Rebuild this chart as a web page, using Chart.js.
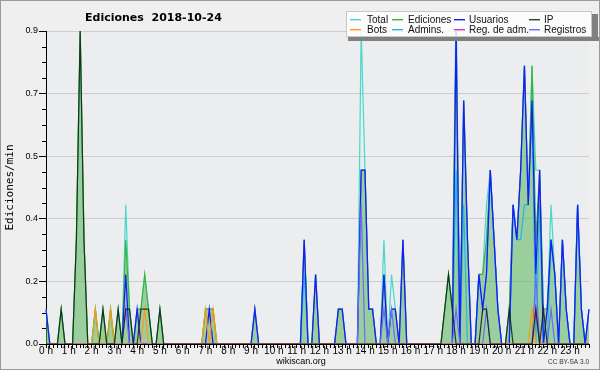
<!DOCTYPE html>
<html><head><meta charset="utf-8">
<script src="https://cdn.jsdelivr.net/npm/chart.js@4/dist/chart.umd.min.js"></script>
<style>html,body{margin:0;padding:0;background:#efefef;}canvas{display:block;}</style>
</head><body>
<canvas id="c" width="600" height="370"></canvas>
<script>
// ---- data (10-minute slots, edits per minute) ----
const hourLabels = ['0 h','1 h','2 h','3 h','4 h','5 h','6 h','7 h','8 h','9 h','10 h','11 h',
  '12 h','13 h','14 h','15 h','16 h','17 h','18 h','19 h','20 h','21 h','22 h','23 h'];
const slotsPerHour = 6;
const yTickValues = [0, 0.18, 0.36, 0.54, 0.72, 0.9];
const yTickLabels = ['0.0', '0.2', '0.4', '0.5', '0.7', '0.9'];
const seriesNames = ['Total','Ediciones','Usuarios','IP','Bots','Admins.','Reg. de adm.','Registros'];

const total = [
0.1,0,0,0,0.1,0,  0,0,0.3,0.9,0.3,0,  0,0.1,0,0.1,0,0.1,  0,0.1,0,0.4,0.1,0,
0.1,0.1,0.2,0.1,0,0,  0.1,0,0,0,0,0,  0,0,0,0,0,0,  0.1,0.1,0.1,0,0,0,
0,0,0,0,0,0,  0,0.1,0,0,0,0,  0,0,0,0,0,0,  0,0,0.3,0,0,0.2,
0,0,0,0,0,0.1,  0.1,0,0,0,0,0.9,  0.5,0.1,0.1,0,0,0.3,  0,0.2,0.1,0,0.3,0,
0,0,0,0,0,0,  0,0,0,0.1,0.2,0.1,  1.0,0,0.7,0.3,0,0,  0.2,0.2,0.4,0.5,0.3,0.1,
0,0,0.1,0.4,0.3,0.5,  0.8,0.4,0.8,0.5,0.5,0.1,  0.1,0.4,0.2,0,0.3,0.1,  0,0,0.4,0.1,0,0.1];

const ediciones = [
0.1,0,0,0,0.1,0,  0,0,0.3,0.9,0.3,0,  0,0.1,0,0.1,0,0.1,  0,0.1,0,0.3,0.1,0,
0.1,0.1,0.2,0.1,0,0,  0.1,0,0,0,0,0,  0,0,0,0,0,0,  0.1,0.1,0.1,0,0,0,
0,0,0,0,0,0,  0,0.1,0,0,0,0,  0,0,0,0,0,0,  0,0,0.3,0,0,0.2,
0,0,0,0,0,0.1,  0.1,0,0,0,0,0.5,  0.5,0.1,0.1,0,0,0.2,  0,0.1,0.1,0,0.3,0,
0,0,0,0,0,0,  0,0,0,0.1,0.2,0.1,  0.9,0,0.7,0.3,0,0,  0.2,0.2,0.3,0.5,0.3,0.1,
0,0,0.1,0.4,0.3,0.5,  0.8,0.4,0.8,0.3,0.5,0.1,  0.1,0.3,0.2,0,0.3,0.1,  0,0,0.4,0.1,0,0.1];

const usuarios = [
0.1,0,0,0,0,0,  0,0,0,0,0,0,  0,0,0,0,0,0,  0,0,0,0.2,0,0,
0.1,0,0,0,0,0,  0,0,0,0,0,0,  0,0,0,0,0,0,  0,0.1,0,0,0,0,
0,0,0,0,0,0,  0,0.1,0,0,0,0,  0,0,0,0,0,0,  0,0,0.3,0,0,0.2,
0,0,0,0,0,0.1,  0.1,0,0,0,0,0.5,  0.5,0.1,0.1,0,0,0.2,  0,0.1,0.1,0,0.3,0,
0,0,0,0,0,0,  0,0,0,0,0,0,  0.9,0,0.7,0.3,0,0,  0.2,0.1,0.2,0.5,0.3,0.1,
0,0,0,0.4,0.3,0.5,  0.8,0.4,0.7,0.2,0.5,0,  0.1,0.3,0.2,0,0.3,0.1,  0,0,0.4,0.1,0,0.1];

const ip = [
0,0,0,0,0.1,0,  0,0,0.3,0.9,0.3,0,  0,0,0,0.1,0,0,  0,0.1,0,0.1,0.1,0,
0,0.1,0.1,0.1,0,0,  0.1,0,0,0,0,0,  0,0,0,0,0,0,  0,0,0,0,0,0,
0,0,0,0,0,0,  0,0,0,0,0,0,  0,0,0,0,0,0,  0,0,0,0,0,0,
0,0,0,0,0,0,  0,0,0,0,0,0,  0,0,0,0,0,0,  0,0,0,0,0,0,
0,0,0,0,0,0,  0,0,0,0.1,0.2,0.1,  0,0,0,0,0,0,  0,0.1,0.1,0,0,0,
0,0,0.1,0,0,0,  0,0,0,0.1,0,0.1,  0,0,0,0,0,0,  0,0,0,0,0,0];

const bots = [
0,0,0,0,0,0,  0,0,0,0,0,0,  0,0.1,0,0,0,0.1,  0,0,0,0,0,0,
0,0,0.1,0,0,0,  0,0,0,0,0,0,  0,0,0,0,0,0,  0.1,0,0.1,0,0,0,
0,0,0,0,0,0,  0,0,0,0,0,0,  0,0,0,0,0,0,  0,0,0,0,0,0,
0,0,0,0,0,0,  0,0,0,0,0,0,  0,0,0,0,0,0,  0,0,0,0,0,0,
0,0,0,0,0,0,  0,0,0,0,0,0,  0,0,0,0,0,0,  0,0,0,0,0,0,
0,0,0,0,0,0,  0,0,0.1,0,0,0,  0,0,0,0,0,0,  0,0,0,0,0,0];

const admins = [
0,0,0,0,0,0,  0,0,0,0,0,0,  0,0,0,0,0,0,  0,0,0,0,0,0,
0,0,0,0,0,0,  0,0,0,0,0,0,  0,0,0,0,0,0,  0,0,0,0,0,0,
0,0,0,0,0,0,  0,0,0,0,0,0,  0,0,0,0,0,0,  0,0,0.2,0,0,0,
0,0,0,0,0,0,  0,0,0,0,0,0,  0,0,0,0,0,0,  0,0,0,0,0,0,
0,0,0,0,0,0,  0,0,0,0,0,0,  0.5,0,0.4,0,0,0,  0.2,0.1,0.2,0.5,0.3,0.1,
0,0,0,0.4,0.3,0.3,  0.4,0.4,0.7,0,0.4,0,  0,0.3,0.2,0,0.3,0.1,  0,0,0.4,0.1,0,0.1];

const regAdm = [
0,0,0,0,0,0,  0,0,0,0,0,0,  0,0,0,0,0,0,  0,0,0,0,0,0,
0,0,0,0,0,0,  0,0,0,0,0,0,  0,0,0,0,0,0,  0,0,0,0,0,0,
0,0,0,0,0,0,  0,0,0,0,0,0,  0,0,0,0,0,0,  0,0,0,0,0,0,
0,0,0,0,0,0,  0,0,0,0,0,0,  0,0,0,0,0,0,  0,0,0,0,0,0,
0,0,0,0,0,0,  0,0,0,0,0,0,  0,0,0,0,0,0,  0,0,0,0,0,0,
0,0,0,0,0,0,  0,0,0,0.1,0,0,  0,0,0,0,0,0,  0,0,0,0,0,0];

const registros = [
0,0,0,0,0,0,  0,0,0,0,0,0,  0,0,0,0,0,0,  0,0,0,0.1,0,0,
0,0,0,0,0,0,  0,0,0,0,0,0,  0,0,0,0,0,0,  0,0,0,0,0,0,
0,0,0,0,0,0,  0,0,0,0,0,0,  0,0,0,0,0,0,  0,0,0,0,0,0,
0,0,0,0,0,0,  0,0,0,0,0,0.4,  0,0,0,0,0,0.1,  0,0.1,0,0,0,0,
0,0,0,0,0,0,  0,0,0,0,0,0,  0.1,0,0,0,0,0,  0,0,0.1,0,0,0,
0,0,0,0,0,0,  0,0,0,0.2,0,0,  0,0.1,0,0,0,0,  0,0,0,0,0,0];

// ---- build category labels (one per 10-minute slot) ----
const timeLabels = [];
hourLabels.forEach(h => { for (let s = 0; s < slotsPerHour; s++) timeLabels.push(s === 0 ? h : ''); });

const styles = [
  {color:'#46d8cc', width:1.2, order:8},
  {color:'#3cb43c', width:1.2, order:7, fill:'rgba(90,180,90,0.55)'},
  {color:'#1a1aff', width:1.3, order:5},
  {color:'rgba(15,30,15,0.85)', width:1.2, order:1},
  {color:'#ff9a10', width:1.2, order:2},
  {color:'#22b8e2', width:1.2, order:6},
  {color:'#cc33cc', width:1.2, order:3},
  {color:'#6a6aff', width:1.2, order:4}
];
const seriesData = [total, ediciones, usuarios, ip, bots, admins, regAdm, registros];

const datasets = seriesData.map((d, k) => ({
  label: seriesNames[k], data: d,
  borderColor: styles[k].color, borderWidth: styles[k].width, order: styles[k].order,
  backgroundColor: styles[k].fill || 'rgba(0,0,0,0)',
  fill: styles[k].fill ? 'origin' : false,
  pointRadius: 0, pointHoverRadius: 0, tension: 0
}));

const deco = {
  id: 'deco',
  beforeDraw(chart) {
    const {ctx, chartArea: a} = chart;
    ctx.save();
    ctx.fillStyle = '#efefef'; ctx.fillRect(0, 0, chart.width, chart.height);
    ctx.fillStyle = '#ebedef'; ctx.fillRect(a.left, a.top, a.right - a.left, a.bottom - a.top);
    ctx.restore();
  },
  afterDraw(chart) {
    const {ctx, chartArea: a} = chart;
    const ys = chart.scales.y;
    ctx.save();
    // minor y ticks
    ctx.strokeStyle = '#000'; ctx.lineWidth = 1; ctx.beginPath();
    for (let k = 0; k <= 20; k++) {
      if (k % 4 === 0) continue;
      const py = Math.round(ys.getPixelForValue(k * 0.045)) + 0.5;
      ctx.moveTo(a.left - 4, py); ctx.lineTo(a.left, py);
    }
    ctx.stroke();
    // title
    ctx.fillStyle = '#000'; ctx.textAlign = 'left'; ctx.textBaseline = 'alphabetic';
    ctx.font = 'bold 11px "DejaVu Sans"';
    ctx.fillText('Ediciones  2018-10-24', 85, 21);
    // footer
    ctx.font = '9px "Liberation Sans"'; ctx.textAlign = 'center';
    ctx.fillText('wikiscan.org', 301, 364);
    ctx.font = '6.5px "Liberation Sans"'; ctx.textAlign = 'right'; ctx.fillStyle = '#333';
    ctx.fillText('CC BY-SA 3.0', 589, 364);
    // legend box with shadow
    ctx.fillStyle = '#808080';
    ctx.fillRect(348, 37, 251, 4); ctx.fillRect(592, 14, 6, 27);
    ctx.fillStyle = 'rgba(255,255,255,0.82)'; ctx.fillRect(346, 11, 246, 26);
    ctx.strokeStyle = '#c8c8c8'; ctx.lineWidth = 1; ctx.strokeRect(346.5, 11.5, 245, 25);
    const swX = [350, 392, 454, 529], txX = [367, 408, 469, 544], rowY = [19, 29];
    ctx.font = '10px "Liberation Sans"'; ctx.textAlign = 'left';
    seriesNames.forEach((name, k) => {
      const r = Math.floor(k / 4), c = k % 4;
      ctx.fillStyle = styles[k].color;
      ctx.fillRect(swX[c], rowY[r], 11, 1.4);
      ctx.fillStyle = '#111';
      ctx.fillText(name, txX[c], rowY[r] + 3.7);
    });
    // outer border
    ctx.strokeStyle = '#9a9a9a'; ctx.lineWidth = 1; ctx.strokeRect(0.5, 0.5, 599, 369);
    ctx.restore();
  }
};

new Chart(document.getElementById('c'), {
  type: 'line',
  data: { labels: timeLabels, datasets },
  plugins: [deco],
  options: {
    responsive: false, animation: false, devicePixelRatio: 1,
    layout: { padding: { top: 31, right: 11, bottom: 12, left: 0 } },
    plugins: { legend: { display: false }, tooltip: { enabled: false }, filler: { drawTime: 'beforeDatasetsDraw' } },
    scales: {
      x: {
        type: 'category', offset: false, z: 1,
        afterFit: s => { s.height = 14; },
        ticks: { autoSkip: false, maxRotation: 0, minRotation: 0, padding: -3, color: '#000',
                 font: { family: 'Liberation Sans', size: 10 } },
        grid: { drawOnChartArea: false, tickLength: 4, tickColor: '#000', offset: false },
        border: { color: '#000', width: 1 }
      },
      y: {
        min: 0, max: 0.9,
        afterBuildTicks: s => { s.ticks = yTickValues.map(v => ({ value: v })); },
        afterFit: s => { s.width = 46; },
        ticks: { callback: (v, i) => yTickLabels[i], padding: 1, color: '#000',
                 font: { family: 'Liberation Sans', size: 9 } },
        grid: { color: c => (c.tick && c.tick.value === 0) ? 'rgba(0,0,0,0)' : '#cdcdcd',
                tickColor: '#000', tickLength: 7, lineWidth: 1 },
        border: { color: '#000', width: 1 },
        title: { display: true, text: 'Ediciones/min', color: '#000',
                 font: { family: 'DejaVu Sans Mono', size: 11 }, padding: { top: 4, bottom: 0 } }
      }
    }
  }
});
</script>
</body></html>
